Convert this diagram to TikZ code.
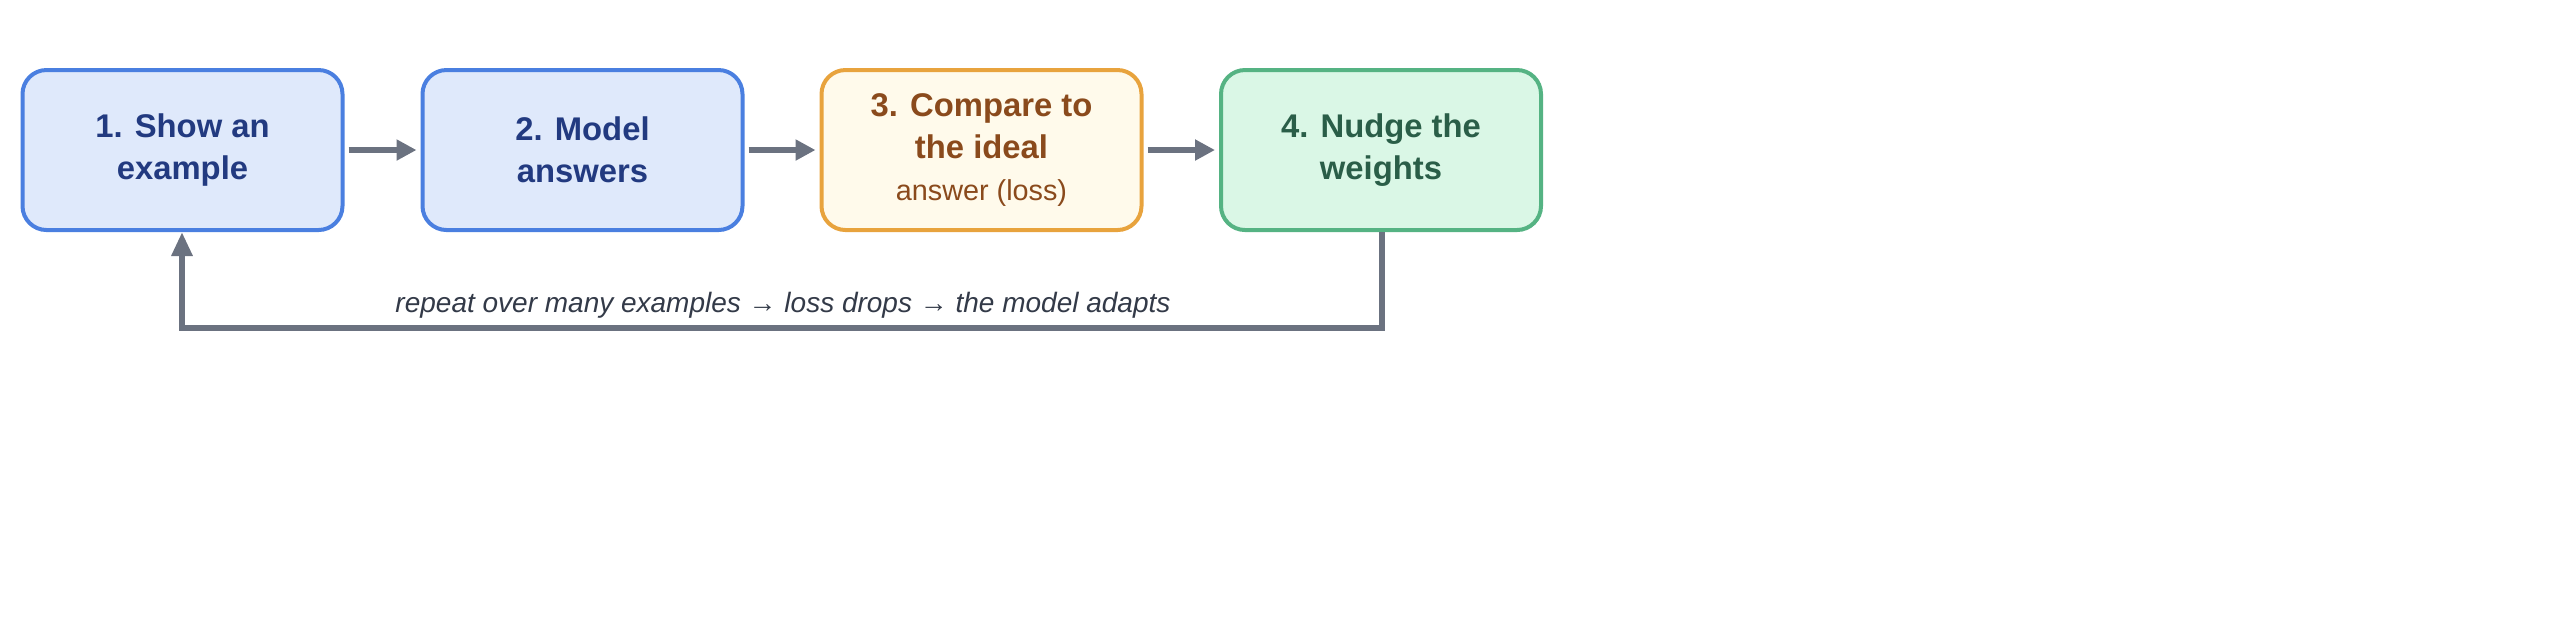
\documentclass[tikz,border=0pt]{standalone}
\usepackage{fontspec}
\setmainfont{Liberation Sans}
\usetikzlibrary{arrows.meta}
\definecolor{bF}{HTML}{DFE9FB}\definecolor{bD}{HTML}{4A7FE0}\definecolor{bT}{HTML}{223A80}
\definecolor{yF}{HTML}{FFFAEB}\definecolor{yD}{HTML}{E8A33D}\definecolor{yT}{HTML}{8A4A1C}
\definecolor{gF}{HTML}{DAF7E6}\definecolor{gD}{HTML}{55B383}\definecolor{gT}{HTML}{2A5E48}
\definecolor{ar}{HTML}{6B7280}\definecolor{lb}{HTML}{333A48}
\begin{document}
\begin{tikzpicture}[x=0.25pt,y=-0.25pt,
 box/.style={draw,line width=1pt,rounded corners=6pt,minimum width=80pt,minimum height=40pt,align=center,font=\fontsize{8.2}{10.5}\selectfont\bfseries},
 arr/.style={draw=ar,line width=1.5pt,-{Triangle[length=5pt,width=5pt]}}]
\useasboundingbox (0,0) rectangle (2560,626);
\node[box,fill=bF,draw=bD,text=bT] (a) at (182.5,150) {1. Show an\\example};
\node[box,fill=bF,draw=bD,text=bT] (b) at (582.5,150) {2. Model\\answers};
\node[box,fill=yF,draw=yD,text=yT] (c) at (981.5,150) {3. Compare to\\the ideal\\{\mdseries\fontsize{7.2}{9}\selectfont answer (loss)}};
\node[box,fill=gF,draw=gD,text=gT] (d) at (1381,150) {4. Nudge the\\weights};
\draw[arr] ([xshift=1pt]a.east) -- ([xshift=-1pt]b.west);
\draw[arr] ([xshift=1pt]b.east) -- ([xshift=-1pt]c.west);
\draw[arr] ([xshift=1pt]c.east) -- ([xshift=-1pt]d.west);
\coordinate (r) at (1382,328); \coordinate (l) at (182,328);
\draw[arr,-{Triangle[length=6pt,width=5pt]}] (d.south -| r) -- (r) -- (l) -- (a.south -| l);
\node[text=lb,font=\fontsize{7}{9}\selectfont\itshape] (t) at (783,305) {repeat over many examples → loss drops → the model adapts};
\end{tikzpicture}
\end{document}
